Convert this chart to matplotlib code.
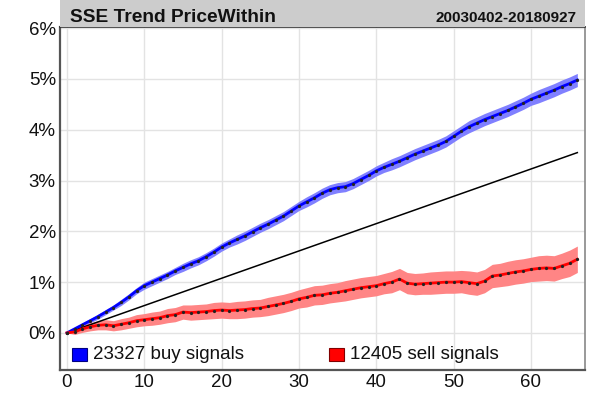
import numpy as np
import matplotlib
matplotlib.use("Agg")
import matplotlib.pyplot as plt
from matplotlib.patches import Rectangle

plt.rcParams["font.family"] = ["Liberation Sans", "DejaVu Sans"]

# ── data (percent) ──────────────────────────────────────
days = list(range(67))

buy_mean = [0.00, 0.08, 0.16, 0.24, 0.32, 0.41, 0.50, 0.60, 0.71, 0.83,
            0.93, 1.00, 1.07, 1.14, 1.22, 1.29, 1.36, 1.42, 1.50, 1.59,
            1.69, 1.77, 1.84, 1.91, 1.99, 2.07, 2.14, 2.22, 2.30, 2.40,
            2.50, 2.58, 2.66, 2.75, 2.82, 2.86, 2.88, 2.94, 3.02, 3.10,
            3.19, 3.26, 3.32, 3.38, 3.45, 3.52, 3.58, 3.64, 3.70, 3.77,
            3.87, 3.97, 4.06, 4.13, 4.20, 4.26, 4.32, 4.38, 4.45, 4.52,
            4.60, 4.66, 4.72, 4.78, 4.85, 4.91, 4.98]

buy_err = [0.00, 0.03, 0.04, 0.04, 0.05, 0.05, 0.05, 0.06, 0.06, 0.06,
           0.07, 0.07, 0.07, 0.07, 0.07, 0.08, 0.08, 0.08, 0.08, 0.08,
           0.08, 0.08, 0.09, 0.09, 0.09, 0.09, 0.09, 0.09, 0.09, 0.09,
           0.09, 0.10, 0.10, 0.10, 0.10, 0.10, 0.10, 0.10, 0.10, 0.10,
           0.10, 0.10, 0.11, 0.11, 0.11, 0.11, 0.11, 0.11, 0.11, 0.11,
           0.11, 0.11, 0.12, 0.12, 0.12, 0.12, 0.12, 0.12, 0.12, 0.12,
           0.12, 0.13, 0.13, 0.13, 0.13, 0.13, 0.13]

sell_mean = [0.00, 0.02, 0.08, 0.12, 0.15, 0.16, 0.14, 0.17, 0.20, 0.24,
             0.26, 0.28, 0.30, 0.34, 0.36, 0.41, 0.40, 0.41, 0.42, 0.44,
             0.45, 0.44, 0.45, 0.46, 0.48, 0.49, 0.52, 0.55, 0.58, 0.62,
             0.67, 0.70, 0.74, 0.75, 0.78, 0.80, 0.83, 0.86, 0.89, 0.91,
             0.93, 0.97, 1.00, 1.06, 0.98, 0.96, 0.97, 0.98, 0.99, 1.00,
             1.00, 1.01, 0.99, 0.97, 1.02, 1.12, 1.14, 1.17, 1.20, 1.22,
             1.25, 1.27, 1.28, 1.27, 1.32, 1.37, 1.45]

sell_err = [0.00, 0.05, 0.07, 0.08, 0.09, 0.10, 0.10, 0.11, 0.11, 0.12,
            0.12, 0.13, 0.13, 0.14, 0.14, 0.14, 0.15, 0.15, 0.15, 0.16,
            0.16, 0.16, 0.17, 0.17, 0.17, 0.17, 0.18, 0.18, 0.18, 0.18,
            0.18, 0.19, 0.19, 0.19, 0.19, 0.19, 0.20, 0.20, 0.20, 0.20,
            0.20, 0.20, 0.21, 0.21, 0.21, 0.21, 0.21, 0.22, 0.22, 0.22,
            0.22, 0.22, 0.23, 0.23, 0.23, 0.23, 0.23, 0.24, 0.24, 0.24,
            0.24, 0.25, 0.25, 0.25, 0.25, 0.26, 0.26]

bench_x = [0, 66]
bench_y = [0.00, 3.55]

n_buy, n_sell = 23327, 12405
title = "SSE Trend PriceWithin"
period = "20030402-20180927"

# ── figure ──────────────────────────────────────────────
fig = plt.figure(figsize=(5.97, 3.94), dpi=100)
ax = fig.add_axes([0.1005, 0.061, 0.8795, 0.870])

# header bar
fig.patches.append(Rectangle((0.1005, 0.931), 0.8795, 0.069,
                             transform=fig.transFigure, facecolor="#cccccc",
                             edgecolor="none", zorder=0))
fig.text(0.118, 0.945, title, fontsize=13.8, fontweight="bold", color="#111111")
fig.text(0.966, 0.945, period, fontsize=11, fontweight="bold",
         color="#111111", ha="right")

bm, be = np.array(buy_mean), np.array(buy_err)
sm, se = np.array(sell_mean), np.array(sell_err)

ax.fill_between(days, bm - be, bm + be, color="#8080ff", lw=0, zorder=2)
ax.fill_between(days, sm - se, sm + se, color="#ff8585", lw=0, zorder=2)
ax.plot(bench_x, bench_y, color="black", lw=1.1, zorder=3)
ax.plot(days, bm, color="#0000ff", lw=2.0, zorder=4)
ax.plot(days, sm, color="#ff0000", lw=2.0, zorder=4)
ax.plot(days, bm, ls="none", marker="o", ms=1.3, color="#222222", zorder=5)
ax.plot(days, sm, ls="none", marker="o", ms=1.3, color="#222222", zorder=5)

ax.set_xlim(-0.9, 67.0)
ax.set_ylim(-0.73, 6.02)
ax.set_xticks([0, 10, 20, 30, 40, 50, 60])
ax.set_yticks([0, 1, 2, 3, 4, 5, 6])
ax.set_yticklabels([f"{v}%" for v in range(7)])
ax.tick_params(length=0, labelsize=13.5, pad=3, colors="#111111")
ax.grid(True, color="#e3e3e3", lw=1.0)
ax.set_axisbelow(True)

for side in ["left", "bottom"]:
    ax.spines[side].set_color("#555555")
    ax.spines[side].set_linewidth(1.6)
ax.spines["right"].set_color("#888888")
ax.spines["right"].set_linewidth(1.2)
ax.spines["top"].set_color("#333333")
ax.spines["top"].set_linewidth(1.2)

# legend entries
for x0, col, edge, label in [(0.023, "#0000ff", "#000080", f"{n_buy} buy signals"),
                             (0.512, "#ff0000", "#800000", f"{n_sell} sell signals")]:
    ax.add_patch(Rectangle((x0, 0.025), 0.028, 0.04, transform=ax.transAxes,
                           facecolor=col, edgecolor=edge, lw=0.8, zorder=6))
    ax.text(x0 + 0.04, 0.045, label, transform=ax.transAxes, fontsize=13.5,
            va="center", color="#111111", zorder=6)

fig.savefig("out.png", dpi=100)
